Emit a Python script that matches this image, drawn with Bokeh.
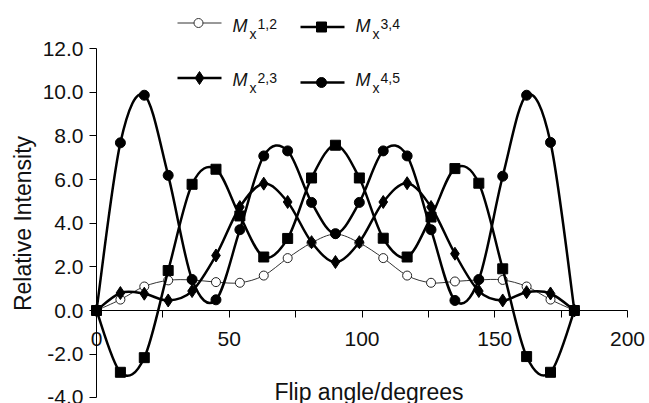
import numpy as np
from bokeh.plotting import figure
from bokeh.models import Range1d, LinearAxis, FixedTicker, Label
from bokeh.embed import file_html
from bokeh.resources import INLINE

# ---------------- data ----------------
flip_angle = [0, 9, 18, 27, 36, 45, 54, 63, 72, 81, 90, 99, 108, 117, 126, 135, 144, 153, 162, 171, 180]
m12 = [0, 0.5, 1.1, 1.38, 1.4, 1.3, 1.27, 1.6, 2.4, 3.1, 3.5, 3.1, 2.4, 1.6, 1.27, 1.33, 1.4, 1.4, 1.1, 0.5, 0]
m23 = [0, 0.8, 0.77, 0.46, 0.89, 2.52, 4.74, 5.81, 4.97, 3.13, 2.22, 3.13, 4.97, 5.83, 4.74, 2.6, 0.89, 0.46, 0.84, 0.78, 0]
m34 = [0, -2.83, -2.16, 1.83, 5.78, 6.47, 4.33, 2.45, 3.3, 6.07, 7.57, 6.07, 3.31, 2.45, 4.28, 6.5, 5.83, 1.91, -2.11, -2.83, 0]
m45 = [0, 7.68, 9.86, 6.19, 1.42, 0.49, 3.7, 7.08, 7.31, 4.95, 3.52, 4.95, 7.31, 7.08, 3.7, 0.46, 1.42, 6.15, 9.86, 7.7, 0]

x_ticks = [0, 25, 50, 75, 100, 125, 150, 175, 200]
x_tick_labels = ["0", "", "50", "", "100", "", "150", "", "200"]
y_ticks = [-4, -2, 0, 2, 4, 6, 8, 10, 12]
y_tick_labels = ["-4.0", "-2.0", "0.0", "2.0", "4.0", "6.0", "8.0", "10.0", "12.0"]
series_sup = ["1,2", "3,4", "2,3", "4,5"]
x_title = "Flip angle/degrees"
y_title = "Relative Intensity"

# ---------------- layout helpers ----------------
W, H = 649, 403
PX_X0, PX_X200 = 96, 627
PX_Y0, PX_Y12 = 310, 48
sx = (PX_X200 - PX_X0) / 200.0
sy = (PX_Y0 - PX_Y12) / 12.0
x_start, x_end = -PX_X0 / sx, (W - PX_X0) / sx
y_start, y_end = -(H - PX_Y0) / sy, PX_Y0 / sy


def dx(px):
    return (px - PX_X0) / sx


def dy(py):
    return (PX_Y0 - py) / sy


def bezier_parts(x, y):
    x = np.asarray(x, float)
    y = np.asarray(y, float)
    n = len(x)
    xp = np.concatenate([[x[0]], x, [x[-1]]])
    yp = np.concatenate([[y[0]], y, [y[-1]]])
    return dict(
        x0=xp[1:n], y0=yp[1:n], x1=xp[2:n + 1], y1=yp[2:n + 1],
        cx0=xp[1:n] + (xp[2:n + 1] - xp[0:n - 1]) / 6.0,
        cy0=yp[1:n] + (yp[2:n + 1] - yp[0:n - 1]) / 6.0,
        cx1=xp[2:n + 1] - (xp[3:n + 2] - xp[1:n]) / 6.0,
        cy1=yp[2:n + 1] - (yp[3:n + 2] - yp[1:n]) / 6.0,
    )


p = figure(width=W, height=H, x_range=Range1d(x_start, x_end), y_range=Range1d(y_start, y_end),
           x_axis_location=None, y_axis_location=None, min_border=0,
           toolbar_location=None, output_backend="svg", outline_line_color=None,
           background_fill_color="white", border_fill_color="white")
p.xgrid.visible = False
p.ygrid.visible = False

FONT = "Liberation Sans"
TXT = "#111111"

xaxis = LinearAxis(fixed_location=0, bounds=(0, 200), ticker=FixedTicker(ticks=x_ticks),
                   major_label_overrides={t: l for t, l in zip(x_ticks, x_tick_labels)})
yaxis = LinearAxis(fixed_location=0, bounds=(-4, 12), ticker=FixedTicker(ticks=y_ticks),
                   major_label_overrides={t: l for t, l in zip(y_ticks, y_tick_labels)})
for ax in (xaxis, yaxis):
    ax.axis_line_color = "black"
    ax.axis_line_width = 1
    ax.major_tick_in = 0
    ax.major_tick_out = 7
    ax.major_tick_line_color = "black"
    ax.minor_tick_in = 0
    ax.minor_tick_out = 0
    ax.major_label_text_font = FONT
    ax.major_label_text_font_size = "21px"
    ax.major_label_text_color = TXT
xaxis.major_label_standoff = 14
yaxis.major_label_standoff = 6
p.add_layout(xaxis, "below")
p.add_layout(yaxis, "left")

# ---------------- series ----------------
thick = dict(line_color="black", line_width=2.5)
p.bezier(**bezier_parts(flip_angle, m12), line_color="#333333", line_width=1)
p.scatter(flip_angle, m12, marker="circle", size=9, fill_color="white", line_color="#222222", line_width=1)
p.bezier(**bezier_parts(flip_angle, m23), **thick)
p.scatter(flip_angle, m23, marker="diamond", size=13, fill_color="black", line_color="black")
p.bezier(**bezier_parts(flip_angle, m34), **thick)
p.scatter(flip_angle, m34, marker="square", size=10, fill_color="black", line_color="black")
p.bezier(**bezier_parts(flip_angle, m45), **thick)
p.scatter(flip_angle, m45, marker="circle", size=10, fill_color="black", line_color="black")


def text_label(xpx, base_px, text, size, **kw):
    # alphabetic baseline correction observed in rendering
    return Label(x=dx(xpx), y=dy(base_px - 0.28 * size), text=text, text_font=FONT,
                 text_font_size=f"{size}px", text_baseline="alphabetic", text_color=TXT, **kw)


# ---------------- legend (manual) ----------------
legend_items = [
    (177, 221, 198, 22.5, "circle", "white", 1, 232, 31, series_sup[0], 9),
    (300, 344, 321, 26.5, "square", "black", 2.5, 355, 31, series_sup[1], 10),
    (177, 221, 199, 77.5, "diamond", "black", 2.5, 232, 85, series_sup[2], 13),
    (300, 344, 321, 82, "circle", "black", 2.5, 355, 85, series_sup[3], 10),
]
for (lx0, lx1, mx, ly, mk, fc, lw, tx, tb, sup, ms) in legend_items:
    lc = "#333333" if lw == 1 else "black"
    p.line([dx(lx0), dx(lx1)], [dy(ly), dy(ly)], line_color=lc, line_width=lw)
    p.scatter([dx(mx)], [dy(ly)], marker=mk, size=ms, fill_color=fc, line_color=lc, line_width=1)
    p.add_layout(text_label(tx, tb, "M", 18, text_font_style="italic"))
    p.add_layout(text_label(tx + 17, tb + 6.5, "x", 14))
    p.add_layout(text_label(tx + 25, tb - 3.5, sup, 14))

# ---------------- titles ----------------
p.add_layout(text_label(368.5, 398, x_title, 23, text_align="center"))
p.add_layout(Label(x=dx(28.5 - 0.28 * 23), y=dy(223), text=y_title, text_font=FONT, text_font_size="23px",
                   text_align="center", text_baseline="alphabetic", angle=np.pi / 2, text_color=TXT))

open("out.html", "w").write(file_html(p, INLINE))
